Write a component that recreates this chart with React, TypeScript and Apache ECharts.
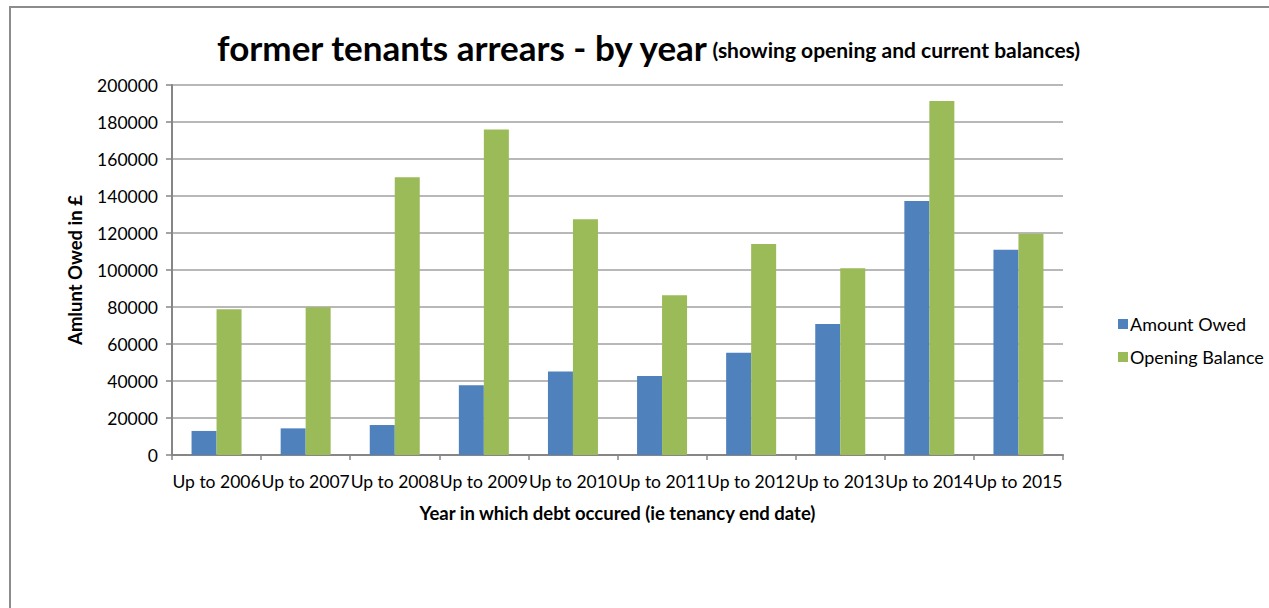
import React, { useEffect, useRef } from "react";
import * as echarts from "echarts";

const categories = [
  "Up to 2006",
  "Up to 2007",
  "Up to 2008",
  "Up to 2009",
  "Up to 2010",
  "Up to 2011",
  "Up to 2012",
  "Up to 2013",
  "Up to 2014",
  "Up to 2015",
];
const amountOwed = [13000, 14400, 16200, 37700, 45200, 42700, 55300, 70800, 137300, 111000];
const openingBalance = [78800, 79800, 150100, 176000, 127400, 86300, 114000, 100900, 191400, 119600];

const FONT = "Lato, 'Open Sans', sans-serif";

export default function App() {
  const ref = useRef<HTMLDivElement>(null);
  useEffect(() => {
    document.body.style.margin = "0";
    if (!ref.current) return;
    const chart = echarts.init(ref.current, null, { renderer: "svg" });
    chart.setOption({
      animation: false,
      backgroundColor: "#ffffff",
      textStyle: { fontFamily: FONT },
      graphic: [
        {
          type: "rect",
          shape: { x: 10, y: 7, width: 1300, height: 700 },
          style: { fill: "none", stroke: "#8c8c8c", lineWidth: 2 },
          silent: true,
        },
      ],
      title: {
        left: 643,
        textAlign: "center",
        top: 24,
        text: "{a|former tenants arrears - by year} {b|(showing opening and current balances)}",
        textStyle: {
          rich: {
            a: { fontSize: 35, fontWeight: "bold", color: "#000", fontFamily: FONT },
            b: { fontSize: 21, fontWeight: "bold", color: "#000", fontFamily: FONT, padding: [6, 0, 0, 0] },
          },
        },
      },
      legend: {
        orient: "vertical",
        left: 1113,
        top: 310,
        itemWidth: 10,
        itemHeight: 10,
        itemGap: 15,
        icon: "rect",
        textStyle: { fontSize: 18, color: "#000", fontFamily: FONT, padding: [0, 0, 0, -3] },
        data: ["Amount Owed", "Opening Balance"],
      },
      grid: { left: 172, right: 206, top: 85, bottom: 153 },
      xAxis: {
        type: "category",
        data: categories,
        name: "Year in which debt occured (ie tenancy end date)",
        nameLocation: "middle",
        nameGap: 48,
        nameTextStyle: { fontSize: 18.5, fontWeight: "bold", color: "#000", fontFamily: FONT },
        axisLine: { lineStyle: { color: "#868686", width: 2 } },
        axisTick: { show: true, length: 5, lineStyle: { color: "#868686", width: 1.5 } },
        axisLabel: { fontSize: 17.5, color: "#000", margin: 17, interval: 0, fontFamily: FONT },
      },
      yAxis: {
        type: "value",
        min: 0,
        max: 200000,
        interval: 20000,
        name: "Amlunt Owed in £",
        nameLocation: "middle",
        nameGap: 88,
        nameTextStyle: { fontSize: 18.5, fontWeight: "bold", color: "#000", fontFamily: FONT },
        axisLine: { show: true, lineStyle: { color: "#868686", width: 2 } },
        axisTick: { show: true, length: 6, lineStyle: { color: "#868686", width: 1.5 } },
        axisLabel: {
          fontSize: 17.5,
          color: "#000",
          margin: 14,
          fontFamily: FONT,
          formatter: (v: number) => String(v),
        },
        splitLine: { lineStyle: { color: "#a0a0a0", width: 1.5 } },
      },
      series: [
        {
          name: "Amount Owed",
          type: "bar",
          data: amountOwed,
          barWidth: 25,
          barGap: "0%",
          itemStyle: { color: "#4F81BD" },
        },
        {
          name: "Opening Balance",
          type: "bar",
          data: openingBalance,
          barWidth: 25,
          barGap: "0%",
          itemStyle: { color: "#9BBB59" },
        },
      ],
    });
    return () => chart.dispose();
  }, []);
  return (
    <div
      ref={ref}
      style={{ position: "absolute", left: 0, top: 0, width: 1269, height: 608 }}
    />
  );
}
